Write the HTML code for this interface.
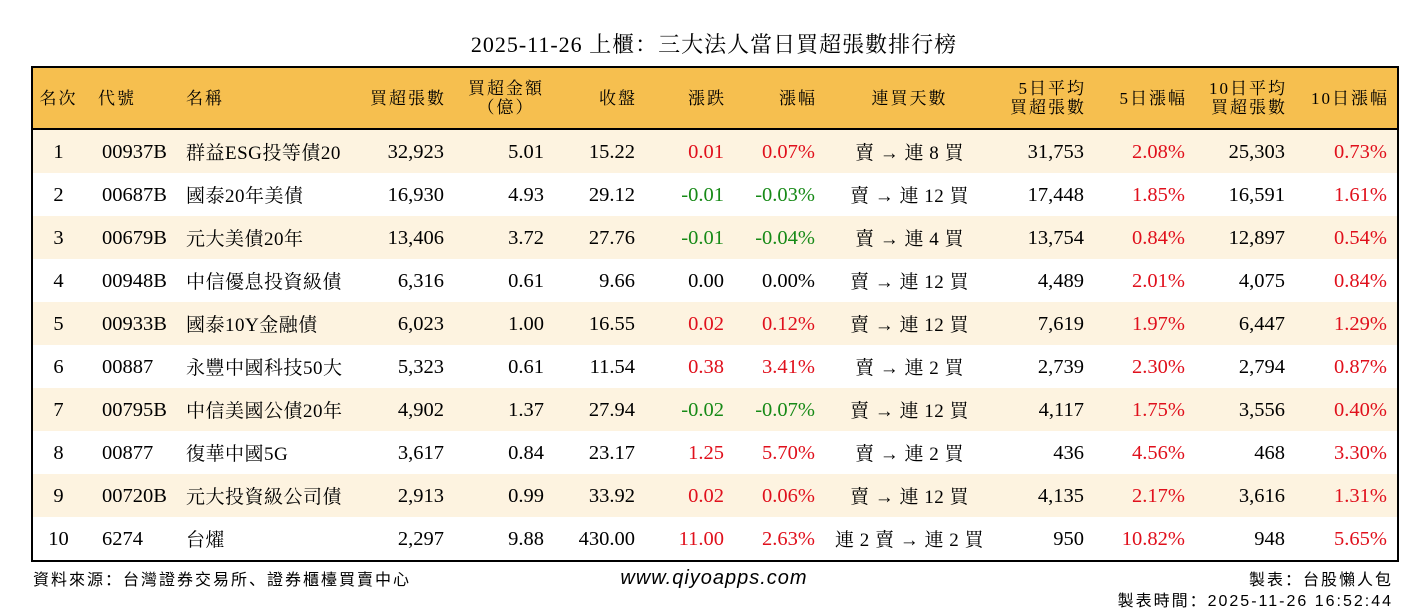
<!DOCTYPE html>
<html><head><meta charset="utf-8"><style>
body{margin:0;width:1428px;height:612px;background:#fff;position:relative;overflow:hidden;font-family:"Liberation Serif","Noto Serif CJK SC",serif;color:#000}
.title{position:absolute;top:28px;left:0;width:1428px;text-align:center;font-size:22px;letter-spacing:1px}
table{position:absolute;left:31px;top:66px;border-collapse:collapse;border:2px solid #000;table-layout:fixed;width:1366px;font-size:20.5px}
th{background:#F6BF4F;height:60px;font-weight:normal;font-size:17px;letter-spacing:2px;line-height:19px;border-bottom:2px solid #000;padding:0}
td{height:43px;padding:0;white-space:nowrap;line-height:24px}
tr:nth-child(odd) td{background:#FDF3E0}
.r{text-align:right;padding-right:10px}
th.r{padding-right:8px}
.c{text-align:center}
.l{text-align:left}
td.n{font-size:19px;letter-spacing:0.5px;padding-top:4px;height:39px}
.red{color:#E0101C}.grn{color:#178A17}
.f{position:absolute;font-family:"Liberation Sans","Noto Sans CJK SC",sans-serif;font-size:16px;letter-spacing:2px}
</style></head><body>
<div class="title">2025-11-26 上櫃：三大法人當日買超張數排行榜</div>
<table>
<colgroup><col style="width:52px"><col style="width:100px"><col style="width:180px"><col style="width:90px"><col style="width:100px"><col style="width:91px"><col style="width:89px"><col style="width:91px"><col style="width:169px"><col style="width:100px"><col style="width:101px"><col style="width:100px"><col style="width:103px"></colgroup>
<thead><tr><th class="c">名次</th><th class="l" style="padding-left:14px">代號</th><th class="l" style="padding-left:2px">名稱</th><th class="r">買超張數</th><th class="r" style="text-align:center;padding-left:12px">買超金額<br>（億）</th><th class="r">收盤</th><th class="r">漲跌</th><th class="r">漲幅</th><th class="c">連買天數</th><th class="r">5日平均<br>買超張數</th><th class="r">5日漲幅</th><th class="r">10日平均<br>買超張數</th><th class="r">10日漲幅</th></tr></thead>
<tbody>
<tr><td class="c">1</td><td class="l" style="padding-left:18px">00937B</td><td class="l n" style="padding-left:2px">群益ESG投等債20</td><td class="r">32,923</td><td class="r">5.01</td><td class="r">15.22</td><td class="r red">0.01</td><td class="r red">0.07%</td><td class="c n">賣 → 連 8 買</td><td class="r">31,753</td><td class="r red">2.08%</td><td class="r">25,303</td><td class="r red">0.73%</td></tr>
<tr><td class="c">2</td><td class="l" style="padding-left:18px">00687B</td><td class="l n" style="padding-left:2px">國泰20年美債</td><td class="r">16,930</td><td class="r">4.93</td><td class="r">29.12</td><td class="r grn">-0.01</td><td class="r grn">-0.03%</td><td class="c n">賣 → 連 12 買</td><td class="r">17,448</td><td class="r red">1.85%</td><td class="r">16,591</td><td class="r red">1.61%</td></tr>
<tr><td class="c">3</td><td class="l" style="padding-left:18px">00679B</td><td class="l n" style="padding-left:2px">元大美債20年</td><td class="r">13,406</td><td class="r">3.72</td><td class="r">27.76</td><td class="r grn">-0.01</td><td class="r grn">-0.04%</td><td class="c n">賣 → 連 4 買</td><td class="r">13,754</td><td class="r red">0.84%</td><td class="r">12,897</td><td class="r red">0.54%</td></tr>
<tr><td class="c">4</td><td class="l" style="padding-left:18px">00948B</td><td class="l n" style="padding-left:2px">中信優息投資級債</td><td class="r">6,316</td><td class="r">0.61</td><td class="r">9.66</td><td class="r">0.00</td><td class="r">0.00%</td><td class="c n">賣 → 連 12 買</td><td class="r">4,489</td><td class="r red">2.01%</td><td class="r">4,075</td><td class="r red">0.84%</td></tr>
<tr><td class="c">5</td><td class="l" style="padding-left:18px">00933B</td><td class="l n" style="padding-left:2px">國泰10Y金融債</td><td class="r">6,023</td><td class="r">1.00</td><td class="r">16.55</td><td class="r red">0.02</td><td class="r red">0.12%</td><td class="c n">賣 → 連 12 買</td><td class="r">7,619</td><td class="r red">1.97%</td><td class="r">6,447</td><td class="r red">1.29%</td></tr>
<tr><td class="c">6</td><td class="l" style="padding-left:18px">00887</td><td class="l n" style="padding-left:2px">永豐中國科技50大</td><td class="r">5,323</td><td class="r">0.61</td><td class="r">11.54</td><td class="r red">0.38</td><td class="r red">3.41%</td><td class="c n">賣 → 連 2 買</td><td class="r">2,739</td><td class="r red">2.30%</td><td class="r">2,794</td><td class="r red">0.87%</td></tr>
<tr><td class="c">7</td><td class="l" style="padding-left:18px">00795B</td><td class="l n" style="padding-left:2px">中信美國公債20年</td><td class="r">4,902</td><td class="r">1.37</td><td class="r">27.94</td><td class="r grn">-0.02</td><td class="r grn">-0.07%</td><td class="c n">賣 → 連 12 買</td><td class="r">4,117</td><td class="r red">1.75%</td><td class="r">3,556</td><td class="r red">0.40%</td></tr>
<tr><td class="c">8</td><td class="l" style="padding-left:18px">00877</td><td class="l n" style="padding-left:2px">復華中國5G</td><td class="r">3,617</td><td class="r">0.84</td><td class="r">23.17</td><td class="r red">1.25</td><td class="r red">5.70%</td><td class="c n">賣 → 連 2 買</td><td class="r">436</td><td class="r red">4.56%</td><td class="r">468</td><td class="r red">3.30%</td></tr>
<tr><td class="c">9</td><td class="l" style="padding-left:18px">00720B</td><td class="l n" style="padding-left:2px">元大投資級公司債</td><td class="r">2,913</td><td class="r">0.99</td><td class="r">33.92</td><td class="r red">0.02</td><td class="r red">0.06%</td><td class="c n">賣 → 連 12 買</td><td class="r">4,135</td><td class="r red">2.17%</td><td class="r">3,616</td><td class="r red">1.31%</td></tr>
<tr><td class="c">10</td><td class="l" style="padding-left:18px">6274</td><td class="l n" style="padding-left:2px">台燿</td><td class="r">2,297</td><td class="r">9.88</td><td class="r">430.00</td><td class="r red">11.00</td><td class="r red">2.63%</td><td class="c n">連 2 賣 → 連 2 買</td><td class="r">950</td><td class="r red">10.82%</td><td class="r">948</td><td class="r red">5.65%</td></tr>
</tbody></table>
<div class="f" style="left:33px;top:566px">資料來源：台灣證券交易所、證券櫃檯買賣中心</div>
<div class="f" style="left:0;width:1428px;text-align:center;top:567px;font-size:20px;letter-spacing:1px;font-style:italic">www.qiyoapps.com</div>
<div class="f" style="right:35px;top:566px">製表：台股懶人包</div>
<div class="f" style="right:35px;top:587px">製表時間：2025-11-26 16:52:44</div>
</body></html>
